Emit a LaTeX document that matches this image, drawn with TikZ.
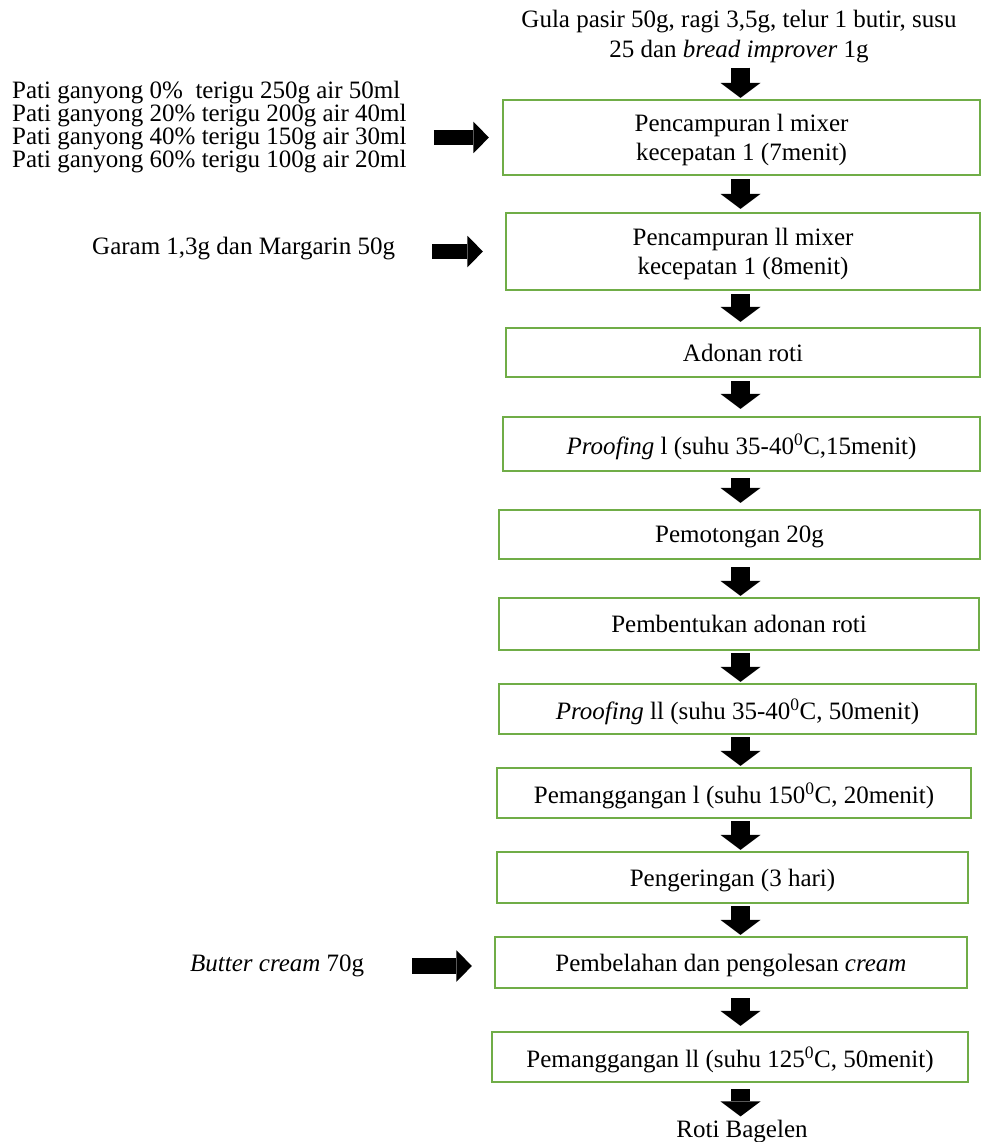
\documentclass[tikz,border=0pt]{standalone}
\usepackage{fontspec}
\setmainfont{Liberation Serif}
\usetikzlibrary{arrows.meta}
\definecolor{boxG}{HTML}{70AD47}
\newcommand{\suhuC}{\textsuperscript{0}C}
\tikzset{
  stepbox/.style={draw=boxG, line width=2.2pt, align=center, inner sep=0pt, text depth=0pt,
                  font=\fontsize{25}{29}\selectfont},
  txt/.style={align=center, inner sep=0pt, font=\fontsize{25}{30}\selectfont},
  sidetxt/.style={align=left, inner sep=0pt, anchor=west, font=\fontsize{25}{23}\selectfont},
  downarr/.style={line width=19pt, -{Triangle[length=15pt,width=40pt,line width=0pt]}},
  rightarr/.style={line width=15.5pt, -{Triangle[length=15.5pt,width=31.5pt,line width=0pt]}},
}

\begin{document}
\begin{tikzpicture}[x=1pt,y=-1pt]
\useasboundingbox (0,0) rectangle (981,1142);
\coordinate (col) at (740.5,0);
\node[txt] (bahan) at (739,37) {Gula pasir 50g, ragi 3,5g, telur 1 butir, susu\\25 dan \textit{bread improver} 1g};
\node[stepbox, minimum width=477pt, minimum height=75pt] (mix1) at (741.5,137.5) {Pencampuran l mixer\\kecepatan 1 (7menit)};
\node[stepbox, minimum width=474pt, minimum height=77pt] (mix2) at (743,251.5) {Pencampuran ll mixer\\kecepatan 1 (8menit)};
\node[stepbox, minimum width=474pt, minimum height=49pt] (dough) at (743,352.5) {Adonan roti};
\node[stepbox, minimum width=477pt, minimum height=54pt] (proof1) at (741.5,444) {\textit{Proofing} l (suhu 35-40\suhuC,15menit)};
\node[stepbox, minimum width=481pt, minimum height=49pt] (cut) at (739.5,534.5) {Pemotongan 20g};
\node[stepbox, minimum width=480pt, minimum height=52pt] (shape) at (739,624) {Pembentukan adonan roti};
\node[stepbox, minimum width=477pt, minimum height=50pt] (proof2) at (737.5,709) {\textit{Proofing} ll (suhu 35-40\suhuC, 50menit)};
\node[stepbox, minimum width=474pt, minimum height=50pt] (bake1) at (734,793) {Pemanggangan l (suhu 150\suhuC, 20menit)};
\node[stepbox, minimum width=471pt, minimum height=51pt] (dry) at (732.5,877.5) {Pengeringan (3 hari)};
\node[stepbox, minimum width=472pt, minimum height=51pt] (split) at (731,962.5) {Pembelahan dan pengolesan \textit{cream}};
\node[stepbox, minimum width=476pt, minimum height=50pt] (bake2) at (730,1057) {Pemanggangan ll (suhu 125\suhuC, 50menit)};
\node[txt] (roti) at (742,1132) {Roti Bagelen};
% bahan tambahan di kiri
\node[sidetxt] (pati) at (12,127.5) {Pati ganyong 0\%\ \ terigu 250g air 50ml\\Pati ganyong 20\% terigu 200g air 40ml\\Pati ganyong 40\% terigu 150g air 30ml\\Pati ganyong 60\% terigu 100g air 20ml};
\node[sidetxt] (garam) at (92,249) {Garam 1,3g dan Margarin 50g};
\node[sidetxt] (butter) at (190,966) {\textit{Butter cream} 70g};
% panah alur
\draw[downarr, shorten <=4pt, shorten >=1pt] (bahan.south -| col) -- (mix1.north -| col);
\draw[downarr, shorten <=3pt, shorten >=3pt] (mix1.south -| col) -- (mix2.north -| col);
\draw[downarr, shorten <=3pt, shorten >=5pt] (mix2.south -| col) -- (dough.north -| col);
\draw[downarr, shorten <=3pt, shorten >=7pt] (dough.south -| col) -- (proof1.north -| col);
\draw[downarr, shorten <=6pt, shorten >=6pt] (proof1.south -| col) -- (cut.north -| col);
\draw[downarr, shorten <=7pt, shorten >=1pt] (cut.south -| col) -- (shape.north -| col);
\draw[downarr, shorten <=2pt, shorten >=1pt] (shape.south -| col) -- (proof2.north -| col);
\draw[downarr, shorten <=2pt, shorten >=1pt] (proof2.south -| col) -- (bake1.north -| col);
\draw[downarr, shorten <=2pt, shorten >=1pt] (bake1.south -| col) -- (dry.north -| col);
\draw[downarr, shorten <=2pt, shorten >=1pt] (dry.south -| col) -- (split.north -| col);
\draw[downarr, shorten <=9pt, shorten >=5pt] (split.south -| col) -- (bake2.north -| col);
\draw[downarr, shorten <=6pt, shorten >=4pt] (bake2.south -| col) -- (roti.north -| col);
\draw[rightarr, shorten <=27pt, shorten >=13pt] (pati.east |- mix1.west) -- (mix1.west);
\draw[rightarr, shorten <=37pt, shorten >=22pt] (garam.east |- mix2.west) -- (mix2.west);
\draw[rightarr, shorten <=48pt, shorten >=22pt] (butter.east) -- (butter.east -| split.west);
\end{tikzpicture}
\end{document}
